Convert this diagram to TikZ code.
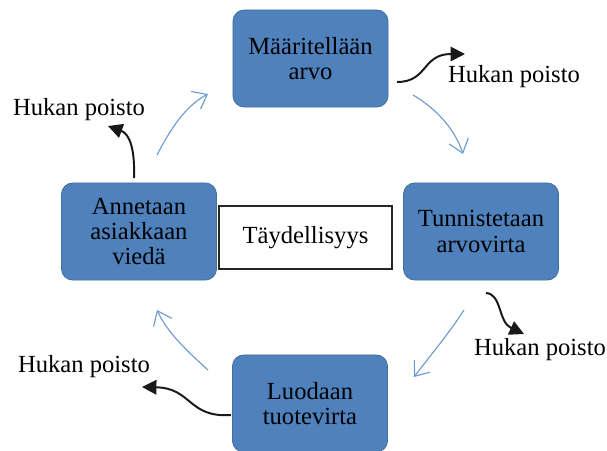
\documentclass[tikz,border=0pt]{standalone}
\usepackage{fontspec}
\setmainfont{Liberation Serif}
\newfontfamily\timesfont{Liberation Serif}
\usetikzlibrary{arrows.meta}
\definecolor{boxblue}{HTML}{4F81BD}
\definecolor{boxedge}{HTML}{41719C}
\definecolor{flowblue}{HTML}{6C9BD2}

\begin{document}
\begin{tikzpicture}[
  x=0.025cm, y=-0.025cm,
  font=\timesfont\fontsize{17.5}{18}\selectfont,
  stage/.style={rounded corners=8pt, draw=boxedge, line width=0.6pt, fill=boxblue,
                align=center, minimum width=3.875cm, minimum height=2.425cm, inner sep=2pt},
  core/.style={draw=black!85, line width=0.9pt, fill=white, align=center,
               minimum width=4.325cm, minimum height=1.575cm},
  waste/.style={anchor=base, inner sep=0pt},
  cycle/.style={-{Straight Barb[length=3.2mm,width=5mm]}, line width=0.8pt, draw=flowblue},
  drop/.style={-{Triangle[length=3.6mm,width=3.6mm]}, line width=1.4pt, draw=black!90},
]
\useasboundingbox (0,0) rectangle (607,450);

% ---- the four stages ----
\node[stage] (arvo)   at (310.5,58.5)  {Määritellään\\arvo};
\node[stage] (virta)  at (481,231.5)   {Tunnistetaan\\arvovirta};
\node[stage] (tuote)  at (310,403.5)   {Luodaan\\tuotevirta};
\node[stage] (asiakas) at (139,231.5)  {Annetaan\\asiakkaan\\viedä};

% ---- centre ----
\node[core] (taydel) at (305.5,237.5) {Täydellisyys};

% ---- waste labels ----
\node[waste] (h1) at (514,82)  {Hukan poisto};
\node[waste] (h2) at (540,355) {Hukan poisto};
\node[waste] (h3) at (84,372)  {Hukan poisto};
\node[waste] (h4) at (79,115)  {Hukan poisto};

% ---- free ends of the connectors ----
\coordinate (c1s) at (157,155); \coordinate (c1e) at (208,94);
\coordinate (c2s) at (413,95);  \coordinate (c2e) at (463,154);
\coordinate (c3s) at (464,310); \coordinate (c3e) at (414,377);
\coordinate (c4s) at (208,370); \coordinate (c4e) at (157,310);

\coordinate (d1s) at (397,82);  \coordinate (d1e) at (465,54);
\coordinate (d2s) at (486,293); \coordinate (d2e) at (524,334);
\coordinate (d3s) at (231,415); \coordinate (d3e) at (142,387);
\coordinate (d4s) at (134,178); \coordinate (d4e) at (108,126);

% ---- cycle arrows (light blue) ----
\draw[cycle] (c1s) .. controls (170,130) and (185,106) .. (c1e);
\draw[cycle] (c2s) .. controls (432,106) and (454,126) .. (c2e);
\draw[cycle] (c3s) .. controls (450,332) and (430,356) .. (c3e);
\draw[cycle] (c4s) .. controls (186,350) and (167,332) .. (c4e);

% ---- waste removal arrows (black) ----
\draw[drop] (d1s) .. controls (428,82) and (422,54) .. (d1e);
\draw[drop] (d2s) .. controls (502,294) and (498,322) .. (d2e);
\draw[drop] (d3s) .. controls (188,418) and (192,388) .. (d3e);
\draw[drop] (d4s) .. controls (135,150) and (130,134) .. (d4e);
\end{tikzpicture}
\end{document}
